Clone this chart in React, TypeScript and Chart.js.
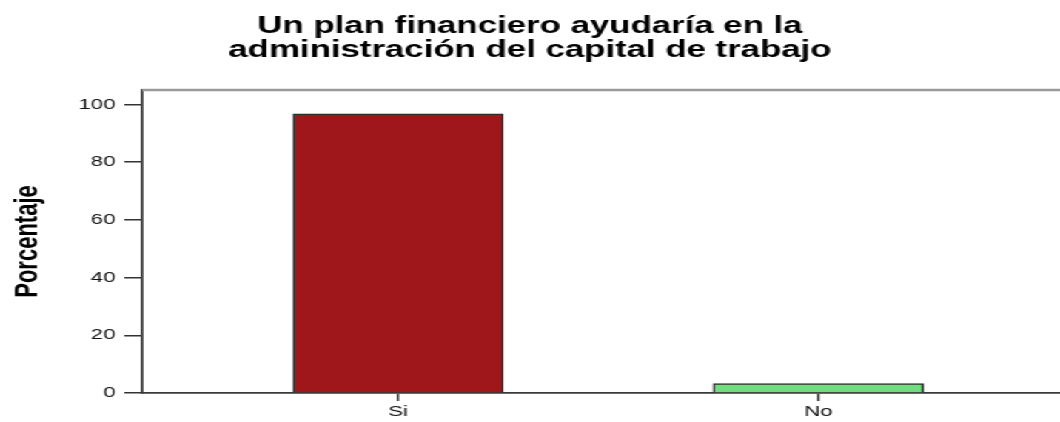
import React, { useEffect, useRef } from "react";
import { Chart, registerables } from "chart.js";

Chart.register(...registerables);

const titleLines = ["Un plan financiero ayudaría en la", "administración del capital de trabajo"];
const yAxisTitle = "Porcentaje";
const categories = ["Si", "No"];
const percentages = [96.7, 3.3];
const barColors = ["#A0171B", "#72DD80"];
const yTickValues = [0, 20, 40, 60, 80, 100];

const STRETCH = 1060 / 716;

const topBorder = {
  id: "topBorder",
  beforeDatasetsDraw(chart: any) {
    const { ctx, chartArea } = chart;
    ctx.save();
    ctx.strokeStyle = "#9a9a9a";
    ctx.lineWidth = 2.5;
    ctx.beginPath();
    ctx.moveTo(chartArea.left, chartArea.top);
    ctx.lineTo(chartArea.right, chartArea.top);
    ctx.stroke();
    ctx.restore();
  },
};

export default function App() {
  const ref = useRef<HTMLCanvasElement | null>(null);

  useEffect(() => {
    document.documentElement.style.overflow = "hidden";
    const canvas = ref.current;
    if (!canvas) return;
    const chart = new Chart(canvas, {
      type: "bar",
      data: {
        datasets: [
          {
            data: categories.map((c, i) => ({ x: i, y: percentages[i] })),
            backgroundColor: barColors,
            borderColor: "#2e2e2e",
            borderWidth: 1.5,
            barThickness: 142,
          },
        ],
      },
      plugins: [topBorder],
      options: {
        animation: false,
        responsive: true,
        maintainAspectRatio: false,
        layout: { padding: 0 },
        plugins: {
          legend: { display: false },
          tooltip: { enabled: false },
          title: {
            display: true,
            text: titleLines,
            color: "#000",
            font: { family: "'Liberation Sans', Arial, sans-serif", weight: "bold", size: 23.5, lineHeight: "24px" },
            padding: { top: 15, bottom: 27 },
          },
        },
        scales: {
          x: {
            type: "linear",
            min: -0.609,
            max: 1.575,
            offset: false,
            afterBuildTicks: (scale: any) => {
              scale.ticks = categories.map((_, i) => ({ value: i }));
            },
            afterFit: (scale: any) => {
              scale.height = 29;
            },
            ticks: {
              autoSkip: false,
              maxRotation: 0,
              padding: 2,
              color: "#111",
              font: { family: "'Liberation Sans', Arial, sans-serif", size: 15 },
              callback: (v: any) => categories[v] ?? "",
            },
            grid: { offset: false, drawOnChartArea: false, drawTicks: true, tickLength: 8, color: "#333", lineWidth: 1.5 },
            border: { display: true, color: "#3a3a3a", width: 1.8 },
          },
          y: {
            min: 0,
            max: 105,
            afterBuildTicks: (scale: any) => {
              scale.ticks = yTickValues.map((v) => ({ value: v }));
            },
            afterFit: (scale: any) => {
              scale.width = 96;
            },
            ticks: {
              padding: 6,
              color: "#111",
              font: { family: "'Liberation Sans', Arial, sans-serif", size: 15 },
            },
            grid: { drawOnChartArea: false, drawTicks: true, tickLength: 12, color: "#333", lineWidth: 1.5 },
            border: { display: true, color: "#3a3a3a", width: 1.8 },
            title: {
              display: true,
              text: yAxisTitle,
              color: "#000",
              font: { family: "'Liberation Sans', Arial, sans-serif", weight: "bold", size: 22 },
              padding: { top: 6, bottom: 0 },
            },
          },
        },
      },
    } as any);
    return () => chart.destroy();
  }, []);

  return (
    <div
      style={{
        position: "absolute",
        left: 0,
        top: 0,
        width: 716,
        height: 422,
        transform: `scaleX(${STRETCH})`,
        transformOrigin: "0 0",
        background: "#fff",
      }}
    >
      <canvas ref={ref} />
    </div>
  );
}
